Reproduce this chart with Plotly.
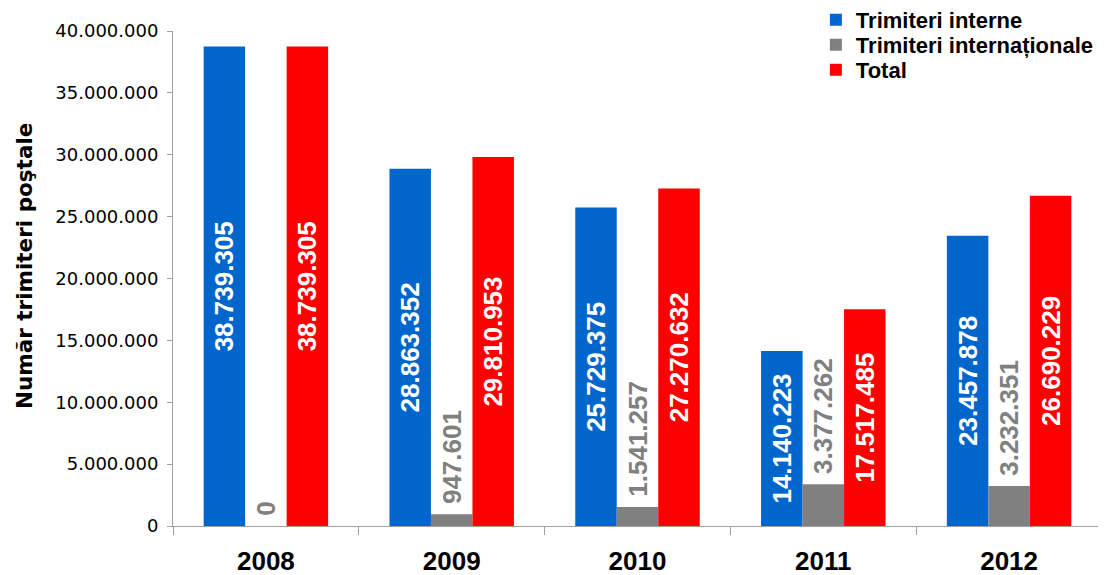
import plotly.graph_objects as go

years = ["2008", "2009", "2010", "2011", "2012"]
interne = [38739305, 28863352, 25729375, 14140223, 23457878]
internationale = [0, 947601, 1541257, 3377262, 3232351]
total = [38739305, 29810953, 27270632, 17517485, 26690229]

series_names = ["Trimiteri interne", "Trimiteri internaționale", "Total"]
colors = ["#0066CC", "#808080", "#FF0000"]
y_title = "Număr trimiteri poştale"


def fmt(v):
    return f"{v:,}".replace(",", ".")


FONT = "DejaVu Sans"
FONTB = "Liberation Sans"
legend_ids = ["legend", "legend2", "legend3"]
legend_y = [1.0222, 0.9717, 0.9212]

fig = go.Figure()
for name, vals, col, lid in zip(series_names, [interne, internationale, total], colors, legend_ids):
    is_gray = col == "#808080"
    labels = [("\u00a0" + fmt(v)) if is_gray else fmt(v) for v in vals]
    fig.add_trace(go.Bar(
        x=years, y=vals, name=name, legend=lid,
        marker=dict(color=col, line=dict(width=0)),
        text=labels,
        textangle=-90,
        textposition="outside" if is_gray else "inside",
        insidetextanchor="middle",
        constraintext="none",
        cliponaxis=False,
        textfont=dict(family=FONTB, size=26, weight="bold",
                      color="#808080" if is_gray else "white"),
    ))

legend_common = dict(x=0.692, xanchor="left", yanchor="middle",
                     font=dict(family=FONTB, size=22, weight="bold", color="black"),
                     bgcolor="rgba(0,0,0,0)")
fig.update_layout(
    width=1106, height=575,
    margin=dict(l=165, r=12, t=23, b=57, autoexpand=False),
    paper_bgcolor="white", plot_bgcolor="white",
    barmode="group", bargap=0.33, bargroupgap=0,
    separators=",.",
    font=dict(family=FONT, color="black"),
    showlegend=True,
    legend=dict(y=legend_y[0], **legend_common),
    legend2=dict(y=legend_y[1], **legend_common),
    legend3=dict(y=legend_y[2], **legend_common),
    annotations=[dict(
        text=y_title, textangle=-90, showarrow=False,
        xref="paper", yref="paper", x=-0.1593, y=0.5253,
        xanchor="center", yanchor="middle",
        font=dict(family=FONT, size=21.5, weight="bold", color="black"),
    )],
)
fig.update_yaxes(
    range=[0, 40000000], dtick=5000000, tickformat=",d",
    showgrid=False, zeroline=False,
    showline=True, linecolor="#A0A0A0", linewidth=1,
    ticks="outside", ticklen=5, tickcolor="#A0A0A0", ticklabelstandoff=5,
    tickfont=dict(family=FONT, size=18, color="black"),
    automargin=False,
)
fig.update_xaxes(
    showgrid=False, zeroline=False,
    showline=True, linecolor="#A0A0A0", linewidth=1,
    ticks="outside", ticklen=8, tickcolor="#A0A0A0", tickson="boundaries",
    ticklabelstandoff=12,
    tickfont=dict(family=FONTB, size=26, weight="bold", color="black"),
    automargin=False,
)

fig.write_html("out.html")
